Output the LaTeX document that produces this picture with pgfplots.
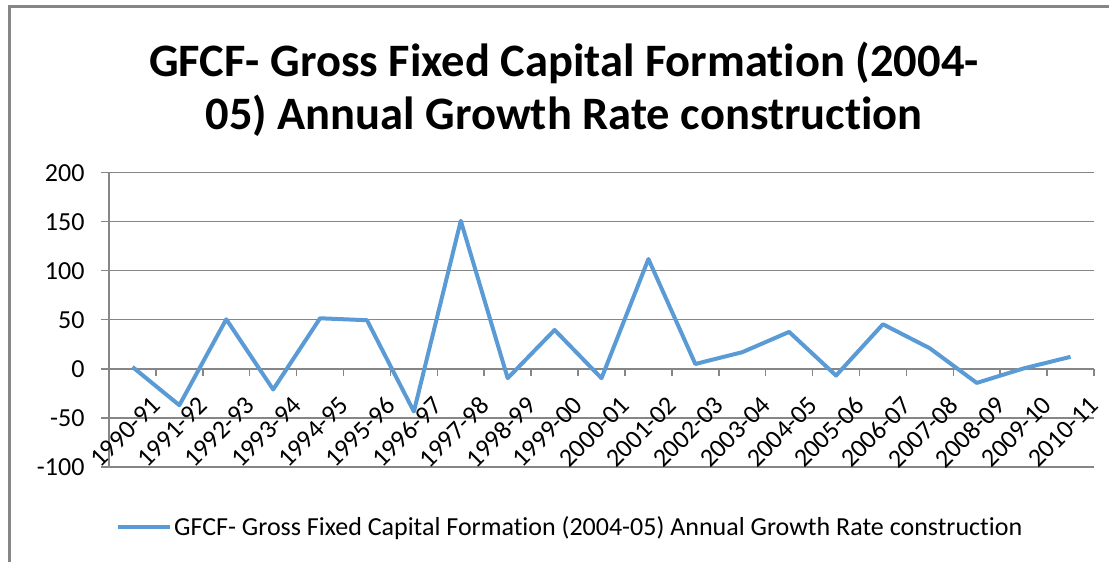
\documentclass[border=0pt]{standalone}
\usepackage{fontspec}
\setmainfont{Carlito}[Ligatures=NoCommon]
\usepackage{pgfplots}
\pgfplotsset{compat=1.18}
\definecolor{series}{HTML}{5B9BD5}
\definecolor{gridc}{HTML}{868686}
\pgfplotstableread{
idx val
0 2
1 -37
2 50.6
3 -21
4 51.6
5 49.6
6 -43.5
7 151
8 -9.5
9 39.7
10 -9.5
11 112
12 5
13 17
14 37.7
15 -6.8
16 45.5
17 21
18 -14.3
19 0.5
20 12.3
}\gfcf
\begin{document}
\begin{tikzpicture}[x=1bp,y=1bp]
\useasboundingbox (0,0) rectangle (1109,562);
\coordinate (A) at (109,95);
\draw[gridc, line width=2.5bp] (9.3,0) -- (9.3,555.5) -- (1109,555.5);
\node[font=\fontsize{46.5bp}{56bp}\selectfont\bfseries, anchor=base, inner sep=0pt] at (564,485) {GFCF- Gross Fixed Capital Formation (2004-};
\node[font=\fontsize{46.5bp}{56bp}\selectfont\bfseries, anchor=base, inner sep=0pt] at (564,432) {05) Annual Growth Rate construction};
\begin{axis}[
  at={(A)}, anchor=south west, scale only axis,
  width=985bp, height=294.3bp,
  xmin=-0.5, xmax=20.5, ymin=-100, ymax=200,
  axis y line*=left, axis x line*=middle,
  axis line style={gridc, line width=2bp},
  ytick={-100,-50,...,200},
  yticklabels={-100,-50,0,50,100,150,200},
  ymajorgrids, grid style={gridc, line width=1.3bp},
  tick align=outside,
  major tick length=8bp,
  minor tick length=7bp,
  major y tick style={gridc, line width=1.3bp},
  major x tick style={draw=none},
  minor x tick style={gridc, line width=1.5bp},
  xtick={0,...,20},
  minor xtick={-0.5,0.5,...,20.5},
  xticklabels={1990-91,1991-92,1992-93,1993-94,1994-95,1995-96,1996-97,1997-98,1998-99,1999-00,2000-01,2001-02,2002-03,2003-04,2004-05,2005-06,2006-07,2007-08,2008-09,2009-10,2010-11},
  xticklabel style={rotate=45, anchor=east, yshift=-34bp, xshift=3bp, font=\fontsize{26bp}{30bp}\selectfont},
  yticklabel style={anchor=east, xshift=-13bp, font=\fontsize{26bp}{30bp}\selectfont},
  legend style={draw=none, fill=none, at={(0.0071,-0.204)}, anchor=west, inner sep=0pt, font=\fontsize{26bp}{30bp}\selectfont},
  legend cell align=left,
  legend image code/.code={\draw[#1] (0bp,0bp) -- (52bp,0bp);},
  clip=false,
]
\addplot[series, line width=4bp, line join=round, mark=none] table[x=idx, y=val] {\gfcf};
\addlegendentry{GFCF- Gross Fixed Capital Formation (2004-05) Annual Growth Rate construction}
\end{axis}
\end{tikzpicture}
\end{document}
